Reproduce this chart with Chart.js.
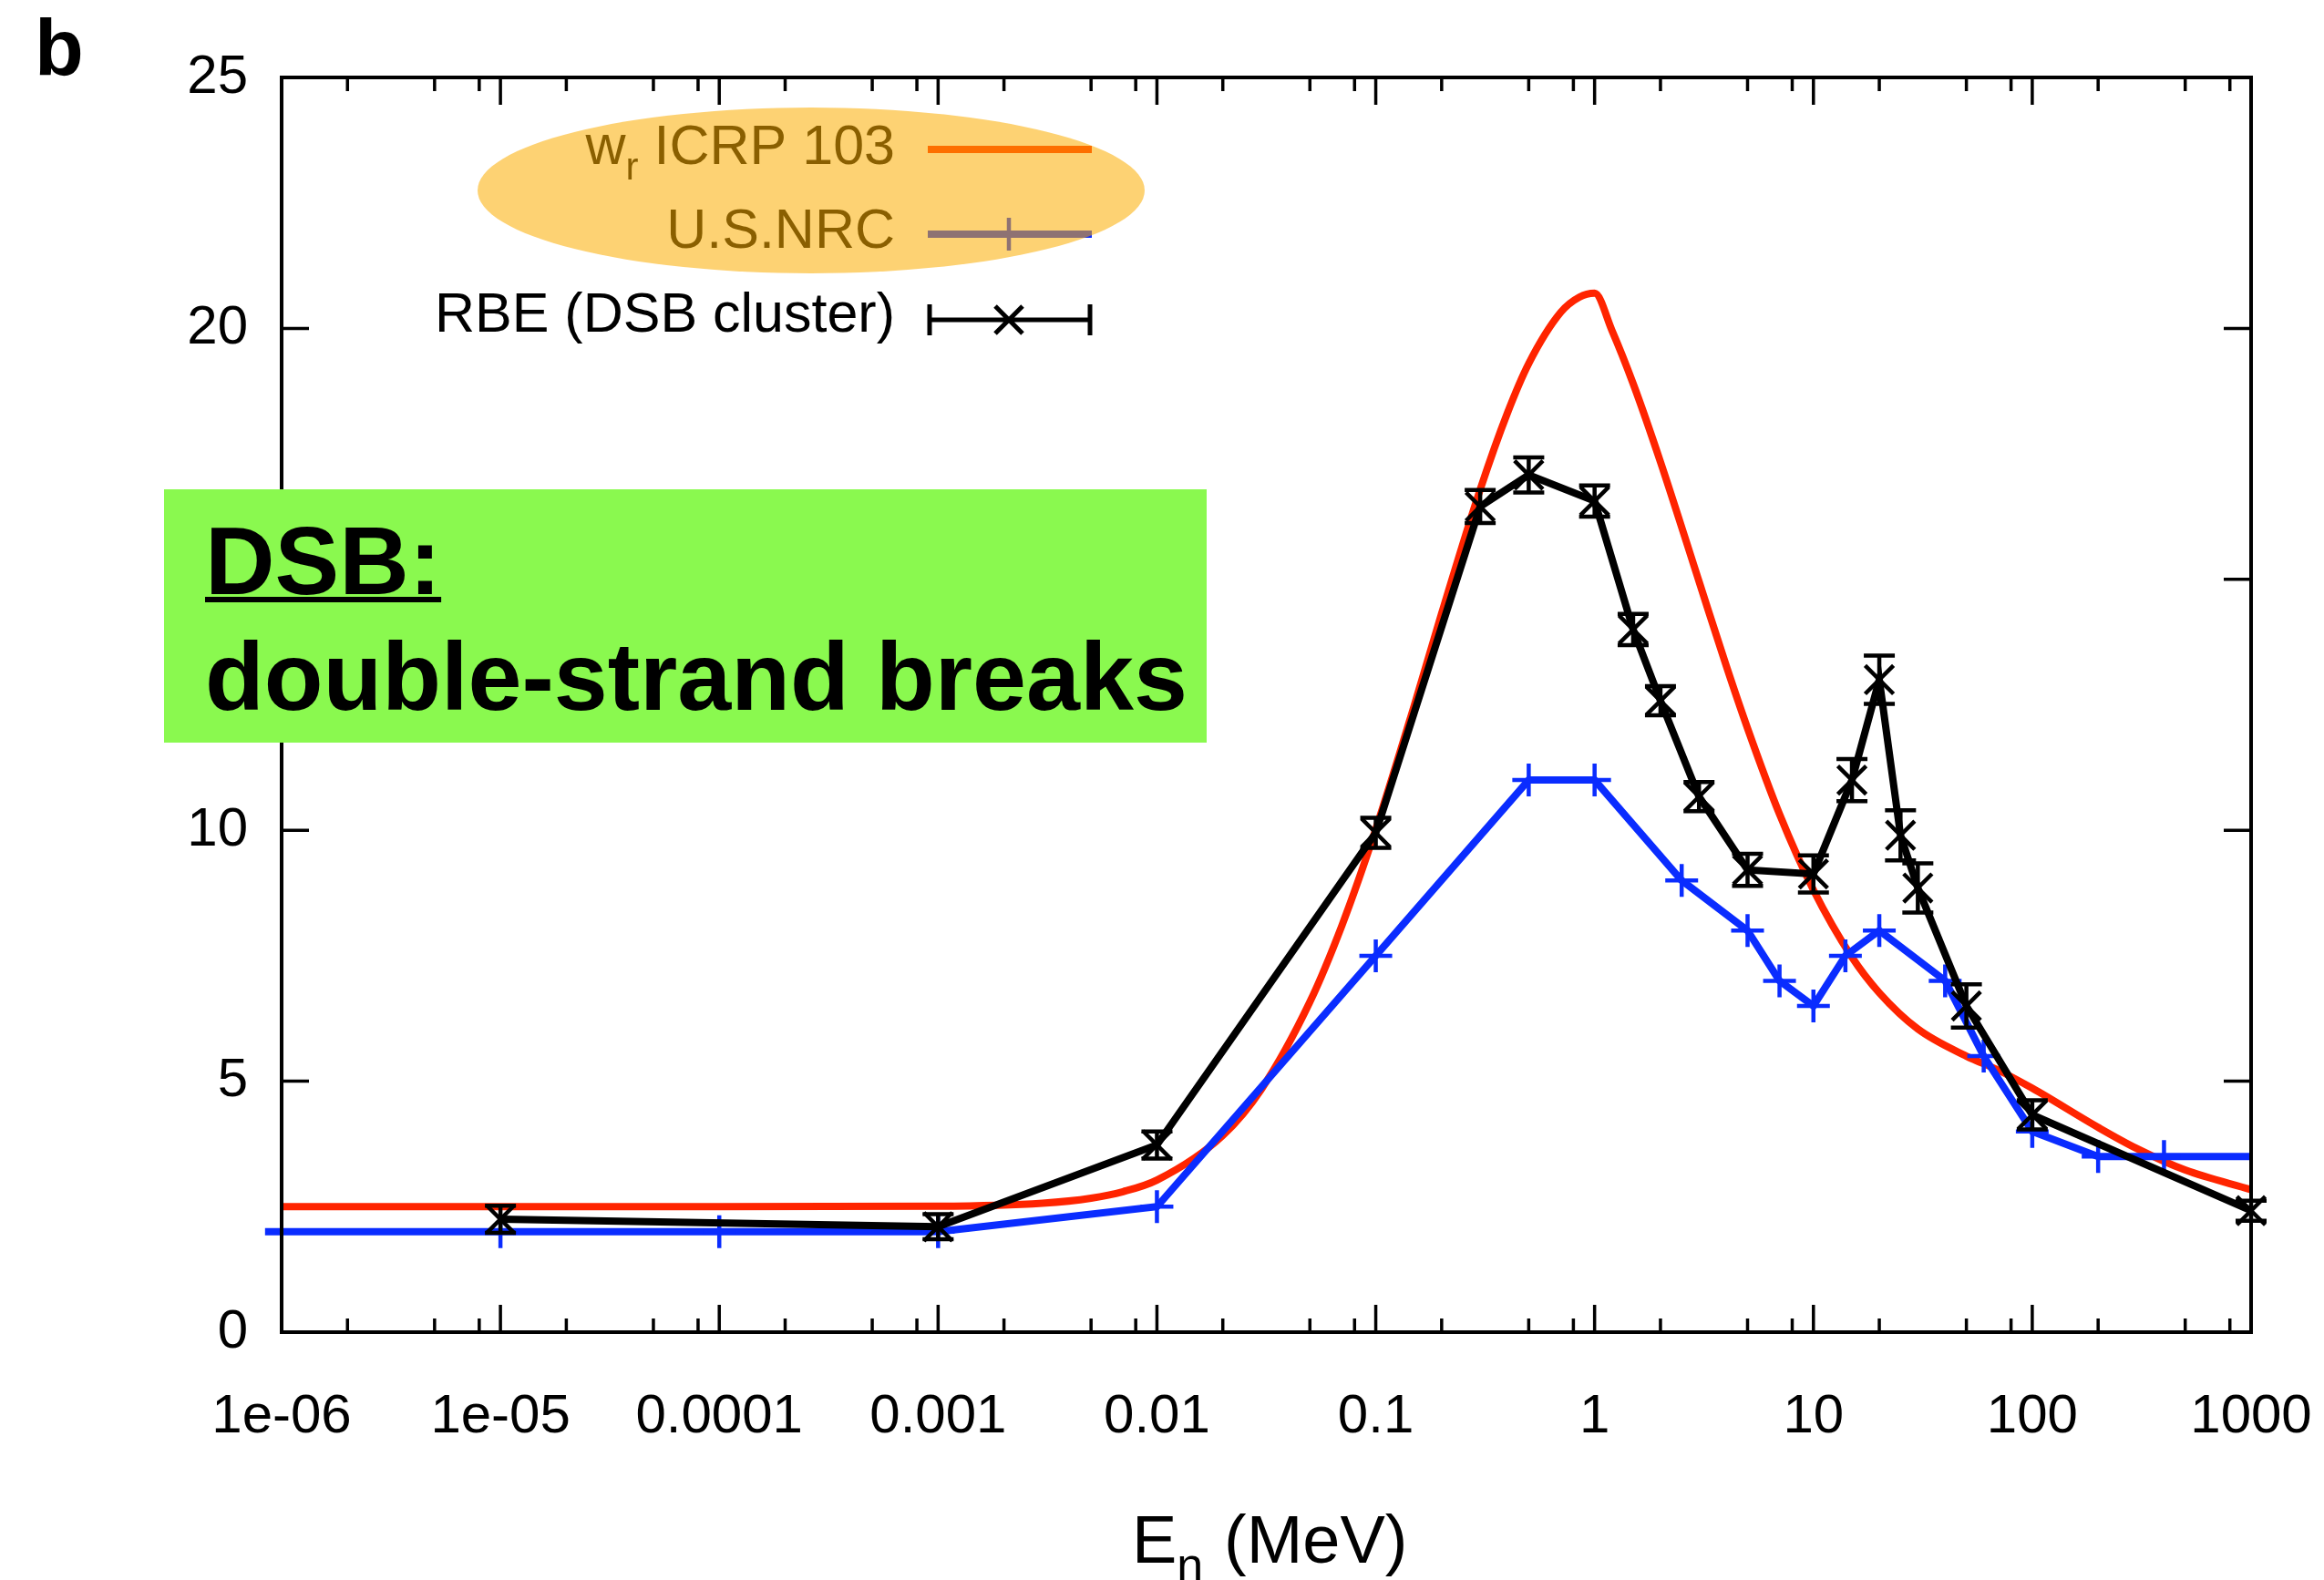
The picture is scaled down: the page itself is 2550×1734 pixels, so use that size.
<!DOCTYPE html>
<html>
<head>
<meta charset="utf-8">
<script src="https://cdn.jsdelivr.net/npm/chart.js@4.4.0/dist/chart.umd.min.js"></script>
<style>
  html, body { margin: 0; padding: 0; background: #fff; }
  #wrap { position: relative; width: 2550px; height: 1734px; overflow: hidden; }
  #c { position: absolute; left: 0; top: 0; }
  #panel { position: absolute; left: 38px; top: 8px; font: bold 88px/88px "Liberation Sans", Arial, sans-serif; color: #000; }
  #blob { position: absolute; left: 524px; top: 118px; width: 732px; height: 182px; border-radius: 50%; background: rgba(251,173,0,0.55); }
  #note { position: absolute; left: 180px; top: 537px; width: 1144px; height: 278px; background: #8af94f;
          box-sizing: border-box; padding: 15px 0 0 45px; font: bold 106px/127px "Liberation Sans", Arial, sans-serif;
          color: #000; white-space: nowrap; }
  #note u { text-decoration-thickness: 6px; }
</style>
</head>
<body>
<div id="wrap">
  <canvas id="c" width="2550" height="1734"></canvas>
  <div id="panel">b</div>
  <div id="blob"></div>
  <div id="note"><u>DSB:</u><br>double-strand breaks</div>
</div>
<script>
// x axis (neutron energy, MeV)
const tickDecades = [1e-6, 1e-5, 1e-4, 1e-3, 1e-2, 1e-1, 1, 10, 100, 1000];
const tickLabels = ['1e-06', '1e-05', '0.0001', '0.001', '0.01', '0.1', '1', '10', '100', '1000'];
const minorMult = [2, 5, 8];
const yTicks = [0, 5, 10, 15, 20, 25];

// w_r ICRP 103 curve
const icrpE = [1e-6, 1e-5, 1e-4, 1e-3, 3e-3, 5e-3, 7e-3, 0.01, 0.02, 0.03, 0.05, 0.07, 0.1, 0.15, 0.2, 0.3, 0.4, 0.5, 0.7, 0.85, 1,
               1.2, 1.5, 2, 3, 4, 5, 7, 10, 15, 20, 30, 50, 70, 100, 200, 300, 500, 1000];
const icrpW = [2.5, 2.5, 2.5, 2.51, 2.57, 2.67, 2.8, 3.03, 3.92, 4.84, 6.58, 8.1, 10.02, 12.49, 14.32, 16.79, 18.32, 19.3, 20.32, 20.62, 20.7,
               19.96, 18.9, 17.34, 14.96, 13.27, 12.03, 10.32, 8.81, 7.47, 6.76, 6.04, 5.5, 5.22, 4.86, 4.08, 3.66, 3.23, 2.84];

// U.S.NRC
const nrcE = [8.4e-7, 1e-5, 1e-4, 1e-3, 1e-2, 0.1, 0.5, 1, 2.5, 5, 7, 10, 14, 20, 40, 60, 100, 200, 400, 1000];
const nrcW = [2, 2, 2, 2, 2.5, 7.5, 11, 11, 9, 8, 7, 6.5, 7.5, 8, 7, 5.5, 4, 3.5, 3.5, 3.5];

// RBE (DSB cluster) with error bars
const rbeE = [1e-5, 1e-3, 1e-2, 0.1, 0.3, 0.5, 1, 1.5, 2, 3, 5, 10, 15, 20, 25, 30, 50, 100, 1000];
const rbe = [2.25, 2.1, 3.73, 9.95, 16.45, 17.08, 16.56, 14.0, 12.58, 10.67, 9.21, 9.13, 11.0, 13.0, 9.9, 8.85, 6.5, 4.33, 2.42];
const rbeErr = [0.27, 0.25, 0.27, 0.3, 0.33, 0.35, 0.31, 0.31, 0.29, 0.29, 0.32, 0.37, 0.42, 0.48, 0.5, 0.49, 0.43, 0.29, 0.2];

const RED = '#ff2400';
const BLUE = '#0a2cff';
const FONT = '"Liberation Sans", Arial, sans-serif';

Chart.defaults.font.family = FONT;
Chart.defaults.color = '#000';

const toXY = (xs, ys) => xs.map((v, i) => ({ x: v, y: ys[i] }));

const nrcRadius = nrcE.map((v, i) => (i === 0 || i === nrcE.length - 1) ? 0 : 18);

// frame, inward ticks, error bars, legend, axis title
const decor = {
  id: 'decor',
  afterDatasetsDraw(chart) {
    const { ctx, chartArea: a, scales: { x, y } } = chart;
    ctx.save();

    // error bars
    const meta = chart.getDatasetMeta(2);
    ctx.strokeStyle = '#000';
    ctx.lineWidth = 4.5;
    meta.data.forEach((pt, i) => {
      const px = pt.x;
      const hi = y.getPixelForValue(rbe[i] + rbeErr[i]);
      const lo = y.getPixelForValue(rbe[i] - rbeErr[i]);
      ctx.beginPath();
      ctx.moveTo(px, hi); ctx.lineTo(px, lo);
      ctx.moveTo(px - 17, hi); ctx.lineTo(px + 17, hi);
      ctx.moveTo(px - 17, lo); ctx.lineTo(px + 17, lo);
      ctx.stroke();
    });

    // frame
    ctx.lineWidth = 4;
    ctx.strokeRect(a.left, a.top, a.right - a.left, a.bottom - a.top);

    // x ticks, top and bottom
    ctx.lineWidth = 3.5;
    ctx.beginPath();
    tickDecades.forEach((d, i) => {
      const px = x.getPixelForValue(d);
      ctx.moveTo(px, a.bottom); ctx.lineTo(px, a.bottom - 30);
      ctx.moveTo(px, a.top); ctx.lineTo(px, a.top + 30);
      if (i < tickDecades.length - 1) {
        minorMult.forEach(m => {
          const mx = x.getPixelForValue(d * m);
          ctx.moveTo(mx, a.bottom); ctx.lineTo(mx, a.bottom - 15);
          ctx.moveTo(mx, a.top); ctx.lineTo(mx, a.top + 15);
        });
      }
    });
    // y ticks, left and right
    yTicks.forEach(v => {
      const py = y.getPixelForValue(v);
      ctx.moveTo(a.left, py); ctx.lineTo(a.left + 30, py);
      ctx.moveTo(a.right, py); ctx.lineTo(a.right - 30, py);
    });
    ctx.stroke();

    // legend
    const lx0 = 1018, lx1 = 1198, lxm = 1107, tx = 982;
    ctx.fillStyle = '#000';
    ctx.textBaseline = 'alphabetic';
    ctx.font = '61px ' + FONT;
    ctx.textAlign = 'left';
    const wIcrp = ctx.measureText(' ICRP 103').width;
    const wW = ctx.measureText('w').width;
    ctx.font = '42px ' + FONT;
    const wR = ctx.measureText('r').width;
    const x0 = tx - wIcrp - wR - wW;
    ctx.fillText('r', x0 + wW, 197);
    ctx.font = '61px ' + FONT;
    ctx.fillText('w', x0, 180);
    ctx.fillText(' ICRP 103', x0 + wW + wR, 180);
    ctx.textAlign = 'right';
    ctx.fillText('U.S.NRC', tx, 272);
    ctx.fillText('RBE (DSB cluster)', tx, 364);

    ctx.lineWidth = 8;
    ctx.strokeStyle = RED;
    ctx.beginPath(); ctx.moveTo(lx0, 164); ctx.lineTo(lx1, 164); ctx.stroke();
    ctx.strokeStyle = BLUE;
    ctx.beginPath(); ctx.moveTo(lx0, 257); ctx.lineTo(lx1, 257); ctx.stroke();
    ctx.lineWidth = 4.5;
    ctx.beginPath(); ctx.moveTo(lxm, 239); ctx.lineTo(lxm, 275); ctx.stroke();
    ctx.strokeStyle = '#000';
    ctx.lineWidth = 5;
    ctx.beginPath();
    ctx.moveTo(lx0 + 2, 351); ctx.lineTo(lx1 - 2, 351);
    ctx.moveTo(lx0 + 2, 334); ctx.lineTo(lx0 + 2, 368);
    ctx.moveTo(lx1 - 2, 334); ctx.lineTo(lx1 - 2, 368);
    ctx.moveTo(lxm - 15, 336); ctx.lineTo(lxm + 15, 366);
    ctx.moveTo(lxm - 15, 366); ctx.lineTo(lxm + 15, 336);
    ctx.stroke();

    // x axis title  E_n (MeV)
    ctx.textAlign = 'left';
    ctx.font = '74px ' + FONT;
    ctx.fillText('E', 1242, 1715);
    const wE = ctx.measureText('E').width;
    ctx.font = '52px ' + FONT;
    ctx.fillText('n', 1242 + wE, 1735);
    ctx.font = '74px ' + FONT;
    ctx.fillText('(MeV)', 1343, 1715);

    ctx.restore();
  }
};

new Chart(document.getElementById('c'), {
  type: 'line',
  data: {
    datasets: [
      {
        label: 'w_r ICRP 103',
        data: toXY(icrpE, icrpW),
        borderColor: RED,
        borderWidth: 8,
        pointRadius: 0,
        cubicInterpolationMode: 'monotone',
        clip: false,
        order: 3
      },
      {
        label: 'U.S.NRC',
        data: toXY(nrcE, nrcW),
        borderColor: BLUE,
        borderWidth: 8,
        pointStyle: 'cross',
        pointRadius: nrcRadius,
        pointBorderWidth: 4.5,
        pointBorderColor: BLUE,
        tension: 0,
        clip: false,
        order: 2
      },
      {
        label: 'RBE (DSB cluster)',
        data: toXY(rbeE, rbe),
        borderColor: '#000',
        borderWidth: 8,
        pointStyle: 'crossRot',
        pointRadius: 22,
        pointBorderWidth: 4.5,
        pointBorderColor: '#000',
        tension: 0,
        clip: false,
        order: 1
      }
    ]
  },
  options: {
    responsive: false,
    devicePixelRatio: 1,
    animation: false,
    layout: { padding: { top: 85, right: 80, left: 0, bottom: 0 } },
    plugins: { legend: { display: false }, tooltip: { enabled: false } },
    scales: {
      x: {
        type: 'logarithmic',
        min: 1e-6,
        max: 1000,
        afterBuildTicks(s) {
          s.ticks = tickDecades.map(v => ({ value: v }));
        },
        afterFit(s) { s.height = 272; s.paddingLeft = 0; s.paddingRight = 0; },
        grid: { display: false, drawTicks: false },
        border: { display: false },
        ticks: {
          autoSkip: false,
          maxRotation: 0,
          padding: 57,
          font: { size: 60 },
          color: '#000',
          callback(v) {
            const i = tickDecades.indexOf(v);
            return i >= 0 ? tickLabels[i] : '';
          }
        }
      },
      y: {
        min: 0,
        max: 25,
        afterBuildTicks(s) {
          s.ticks = yTicks.map(v => ({ value: v }));
        },
        afterFit(s) { s.width = 309; s.paddingTop = 0; s.paddingBottom = 0; },
        grid: { display: false, drawTicks: false },
        border: { display: false },
        ticks: {
          padding: 37,
          font: { size: 60 },
          color: '#000'
        }
      }
    }
  },
  plugins: [decor]
});
</script>
</body>
</html>
